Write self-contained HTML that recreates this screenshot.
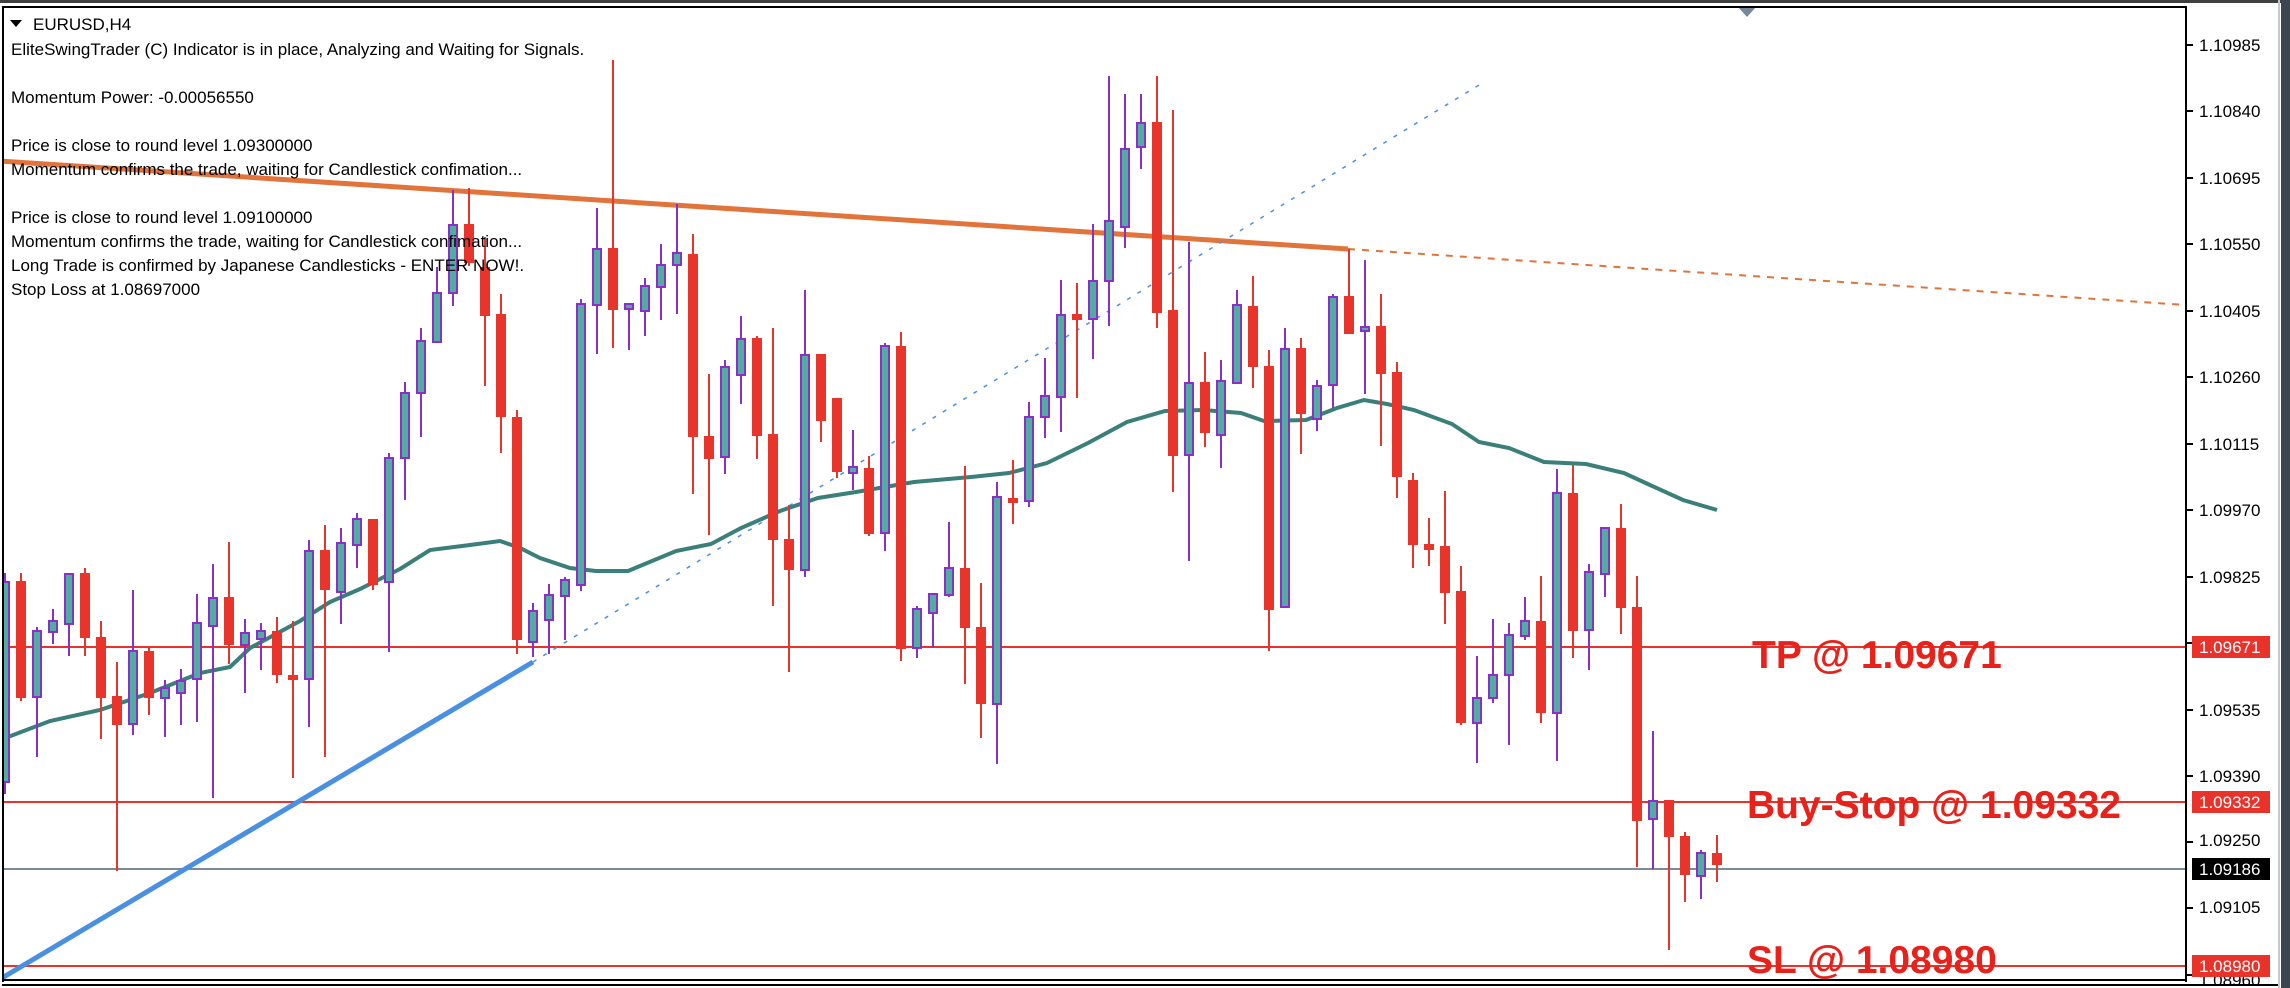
<!DOCTYPE html>
<html><head><meta charset="utf-8"><style>
html,body{margin:0;padding:0;background:#fff;}
body{width:2290px;height:988px;overflow:hidden;position:relative;font-family:"Liberation Sans",Arial,sans-serif;}
svg{position:absolute;left:0;top:0;}
</style></head><body>
<svg width="2290" height="988" viewBox="0 0 2290 988" xmlns="http://www.w3.org/2000/svg">
<rect x="0" y="0" width="2290" height="988" fill="#fff"/>
<rect x="0" y="0" width="2290" height="3" fill="#404040"/>
<rect x="2278" y="0" width="2" height="988" fill="#c8c8c8"/>
<rect x="2281" y="0" width="9" height="988" fill="#3c4650"/>
<defs><clipPath id="c"><rect x="3" y="7" width="2183" height="973"/></clipPath></defs>
<g clip-path="url(#c)">
<!-- horizontal lines -->
<line x1="0" y1="647" x2="2186" y2="647" stroke="#e8322a" stroke-width="2"/>
<line x1="0" y1="802" x2="2186" y2="802" stroke="#e8322a" stroke-width="2"/>
<line x1="0" y1="869" x2="2186" y2="869" stroke="#7a8a98" stroke-width="2"/>
<line x1="0" y1="966" x2="2186" y2="966" stroke="#e8322a" stroke-width="2"/>
<!-- orange line -->
<line x1="0" y1="161" x2="1348" y2="249" stroke="#e0743a" stroke-width="5"/>
<line x1="1348" y1="249" x2="2186" y2="305" stroke="#e0743a" stroke-width="2" stroke-dasharray="7,7"/>
<!-- blue lines -->
<line x1="2" y1="978" x2="533" y2="662" stroke="#4a90e2" stroke-width="5"/>
<line x1="533" y1="662" x2="1484" y2="82" stroke="#4a90e2" stroke-width="1.5" stroke-dasharray="4,8"/>
<!-- MA -->
<polyline fill="none" stroke="#3a7f7a" stroke-width="4" points="0,740 50,721 100,710 150,693 200,673 230,667 250,648 300,621 330,602 360,589 400,569 430,550 470,545 500,541 520,548 540,558 570,568 596,571 628,571 676,551 711,544 741,528 780,511 818,498 856,492 914,482 971,477 1009,473 1047,463 1088,443 1127,422 1165,411 1203,410 1241,413 1264,421 1306,420 1337,408 1364,400 1387,404 1414,410 1452,424 1479,442 1509,448 1544,462 1586,464 1624,473 1650,485 1683,500 1717,510"/>
<!-- wicks -->
<path fill="none" stroke="#8b2fc9" stroke-width="2" d="M5 573V794M37 627V757M53 609V644M69 574V656M133 590V735M165 680V737M181 669V725M197 594V722M213 564V798M245 619V693M261 623V670M309 540V727M341 528V624M357 513V568M389 453V652M405 382V500M421 328V437M437 267V343M453 190V306M533 603V657M549 584V654M565 577V640M581 299V591M597 208V354M629 304V350M645 278V336M661 244V320M677 204V314M725 360V474M741 316V404M805 290V577M853 430V490M885 343V551M917 606V658M933 593V648M949 522V597M997 482V764M1029 402V507M1045 358V438M1061 280V432M1093 224V359M1109 76V326M1125 94V248M1141 94V169M1189 242V561M1221 360V468M1237 290V383M1285 328V607M1317 380V431M1333 294V408M1365 260V394M1477 656V763M1493 619V703M1509 623V745M1525 597V640M1557 469V761M1589 564V670M1605 527V597M1653 731V869M1701 850V899"/>
<path fill="none" stroke="#e8342a" stroke-width="2" d="M21 573V701M85 568V656M101 621V739M117 662V871M149 646V715M229 542V664M277 617V683M293 621V778M325 525V757M373 519V590M469 188V266M485 237V386M501 294V453M517 410V654M613 60V348M693 234V494M709 374V535M757 336V459M773 328V606M789 505V672M821 354V442M837 398V478M869 456V536M901 332V661M965 466V684M981 583V738M1013 460V524M1077 283V398M1157 76V328M1173 110V492M1205 352V447M1253 276V388M1269 350V651M1301 338V454M1349 249V334M1381 294V446M1397 362V498M1413 473V568M1429 518V566M1445 491V624M1461 566V725M1541 576V723M1573 465V658M1621 504V634M1637 576V867M1669 800V950M1685 832V902M1717 835V882"/>
<!-- bull bodies -->
<g fill="#52aca0" stroke="#8b2fc9" stroke-width="2">
<rect x="1" y="582" width="8" height="200"/><rect x="33" y="631" width="8" height="66"/><rect x="49" y="621" width="8" height="11"/><rect x="65" y="574" width="8" height="50"/><rect x="129" y="651" width="8" height="73"/><rect x="161" y="688" width="8" height="10"/><rect x="177" y="681" width="8" height="12"/><rect x="193" y="623" width="8" height="56"/><rect x="209" y="598" width="8" height="28"/><rect x="241" y="633" width="8" height="12"/><rect x="257" y="631" width="8" height="8"/><rect x="305" y="551" width="8" height="128"/><rect x="337" y="543" width="8" height="49"/><rect x="353" y="519" width="8" height="26"/><rect x="385" y="458" width="8" height="124"/><rect x="401" y="393" width="8" height="65"/><rect x="417" y="341" width="8" height="52"/><rect x="433" y="293" width="8" height="49"/><rect x="449" y="225" width="8" height="68"/><rect x="529" y="611" width="8" height="31"/><rect x="545" y="595" width="8" height="25"/><rect x="561" y="580" width="8" height="16"/><rect x="577" y="304" width="8" height="281"/><rect x="593" y="249" width="8" height="56"/><rect x="625" y="304" width="8" height="5"/><rect x="641" y="286" width="8" height="25"/><rect x="657" y="265" width="8" height="22"/><rect x="673" y="253" width="8" height="12"/><rect x="721" y="367" width="8" height="90"/><rect x="737" y="339" width="8" height="36"/><rect x="801" y="355" width="8" height="215"/><rect x="849" y="467" width="8" height="6"/><rect x="881" y="346" width="8" height="187"/><rect x="913" y="609" width="8" height="39"/><rect x="929" y="594" width="8" height="19"/><rect x="945" y="568" width="8" height="27"/><rect x="993" y="497" width="8" height="207"/><rect x="1025" y="417" width="8" height="84"/><rect x="1041" y="396" width="8" height="21"/><rect x="1057" y="315" width="8" height="82"/><rect x="1089" y="281" width="8" height="38"/><rect x="1105" y="221" width="8" height="60"/><rect x="1121" y="149" width="8" height="78"/><rect x="1137" y="123" width="8" height="24"/><rect x="1185" y="383" width="8" height="72"/><rect x="1217" y="381" width="8" height="54"/><rect x="1233" y="305" width="8" height="78"/><rect x="1281" y="349" width="8" height="258"/><rect x="1313" y="386" width="8" height="33"/><rect x="1329" y="297" width="8" height="88"/><rect x="1361" y="327" width="8" height="4"/><rect x="1473" y="698" width="8" height="25"/><rect x="1489" y="675" width="8" height="23"/><rect x="1505" y="635" width="8" height="40"/><rect x="1521" y="621" width="8" height="15"/><rect x="1553" y="493" width="8" height="220"/><rect x="1585" y="572" width="8" height="58"/><rect x="1601" y="528" width="8" height="46"/><rect x="1649" y="801" width="8" height="18"/><rect x="1697" y="853" width="8" height="23"/>
</g>
<!-- bear bodies -->
<g fill="#e8342a">
<rect x="16" y="581" width="10" height="117"/><rect x="80" y="573" width="10" height="65"/><rect x="96" y="637" width="10" height="61"/><rect x="112" y="696" width="10" height="29"/><rect x="144" y="651" width="10" height="47"/><rect x="224" y="597" width="10" height="48"/><rect x="272" y="631" width="10" height="44"/><rect x="288" y="675" width="10" height="5"/><rect x="320" y="550" width="10" height="40"/><rect x="368" y="519" width="10" height="66"/><rect x="464" y="224" width="10" height="39"/><rect x="480" y="267" width="10" height="49"/><rect x="496" y="314" width="10" height="103"/><rect x="512" y="417" width="10" height="223"/><rect x="608" y="248" width="10" height="62"/><rect x="688" y="254" width="10" height="183"/><rect x="704" y="436" width="10" height="23"/><rect x="752" y="338" width="10" height="98"/><rect x="768" y="434" width="10" height="106"/><rect x="784" y="539" width="10" height="31"/><rect x="816" y="354" width="10" height="67"/><rect x="832" y="398" width="10" height="74"/><rect x="864" y="468" width="10" height="66"/><rect x="896" y="346" width="10" height="303"/><rect x="960" y="568" width="10" height="60"/><rect x="976" y="627" width="10" height="77"/><rect x="1008" y="498" width="10" height="5"/><rect x="1072" y="314" width="10" height="6"/><rect x="1152" y="122" width="10" height="191"/><rect x="1168" y="310" width="10" height="146"/><rect x="1200" y="382" width="10" height="51"/><rect x="1248" y="306" width="10" height="61"/><rect x="1264" y="366" width="10" height="244"/><rect x="1296" y="348" width="10" height="66"/><rect x="1344" y="296" width="10" height="38"/><rect x="1376" y="326" width="10" height="48"/><rect x="1392" y="372" width="10" height="105"/><rect x="1408" y="480" width="10" height="65"/><rect x="1424" y="544" width="10" height="6"/><rect x="1440" y="546" width="10" height="47"/><rect x="1456" y="591" width="10" height="132"/><rect x="1536" y="621" width="10" height="92"/><rect x="1568" y="493" width="10" height="138"/><rect x="1616" y="528" width="10" height="80"/><rect x="1632" y="607" width="10" height="214"/><rect x="1664" y="800" width="10" height="37"/><rect x="1680" y="836" width="10" height="39"/><rect x="1712" y="853" width="10" height="12"/>
</g>
<!-- big labels -->
<g fill="#e8221a" font-family="'Liberation Sans',Arial,sans-serif" font-weight="bold" font-size="39">
<text x="1752" y="668">TP @ 1.09671</text>
<text x="1747" y="818">Buy-Stop @ 1.09332</text>
<text x="1747" y="973">SL @ 1.08980</text>
</g>
<!-- top-left text -->
<g fill="#000" font-family="'Liberation Sans',Arial,sans-serif" font-size="17">
<text x="33" y="30">EURUSD,H4</text>
<text x="11" y="55">EliteSwingTrader (C) Indicator is in place, Analyzing and Waiting for Signals.</text>
<text x="11" y="103">Momentum Power: -0.00056550</text>
<text x="11" y="151">Price is close to round level 1.09300000</text>
<text x="11" y="175">Momentum confirms the trade, waiting for Candlestick confimation...</text>
<text x="11" y="223">Price is close to round level 1.09100000</text>
<text x="11" y="247">Momentum confirms the trade, waiting for Candlestick confimation...</text>
<text x="11" y="271">Long Trade is confirmed by Japanese Candlesticks - ENTER NOW!.</text>
<text x="11" y="295">Stop Loss at 1.08697000</text>
</g>
<polygon points="10,20 22,20 16,27" fill="#000"/>
</g>
<!-- top triangle -->
<polygon points="1738,7 1756,7 1747,17" fill="#778899"/>
<!-- borders -->
<rect x="2" y="6" width="2185" height="2" fill="#000"/>
<rect x="2" y="6" width="2" height="976" fill="#000"/>
<rect x="2185" y="6" width="2" height="976" fill="#000"/>
<rect x="2" y="979" width="2185" height="2" fill="#000"/>
<rect x="2" y="984" width="2276" height="2" fill="#000"/>
<!-- axis ticks -->
<path stroke="#000" stroke-width="2" d="M2187 45h6M2187 111h6M2187 178h6M2187 244h6M2187 311h6M2187 377h6M2187 444h6M2187 510h6M2187 577h6M2187 643h6M2187 710h6M2187 776h6M2187 842h6M2187 908h6M2187 975h6"/>
<g fill="#000" font-family="'Liberation Sans',Arial,sans-serif" font-size="17">
<text x="2199" y="51">1.10985</text>
<text x="2199" y="117">1.10840</text>
<text x="2199" y="184">1.10695</text>
<text x="2199" y="250">1.10550</text>
<text x="2199" y="317">1.10405</text>
<text x="2199" y="383">1.10260</text>
<text x="2199" y="450">1.10115</text>
<text x="2199" y="516">1.09970</text>
<text x="2199" y="583">1.09825</text>
<text x="2199" y="716">1.09535</text>
<text x="2199" y="782">1.09390</text>
<text x="2199" y="846">1.09250</text>
<text x="2199" y="913">1.09105</text>
<text x="2199" y="986">1.08960</text>
</g>
<rect x="2192" y="636" width="78" height="22" fill="#e8322a"/>
<rect x="2192" y="791" width="78" height="22" fill="#e8322a"/>
<rect x="2192" y="858" width="78" height="22" fill="#000"/>
<rect x="2192" y="955" width="78" height="22" fill="#e8322a"/>
<g fill="#fff" font-family="'Liberation Sans',Arial,sans-serif" font-size="17">
<text x="2199" y="653">1.09671</text>
<text x="2199" y="808">1.09332</text>
<text x="2199" y="875">1.09186</text>
<text x="2199" y="972">1.08980</text>
</g>
</svg>
</body></html>
